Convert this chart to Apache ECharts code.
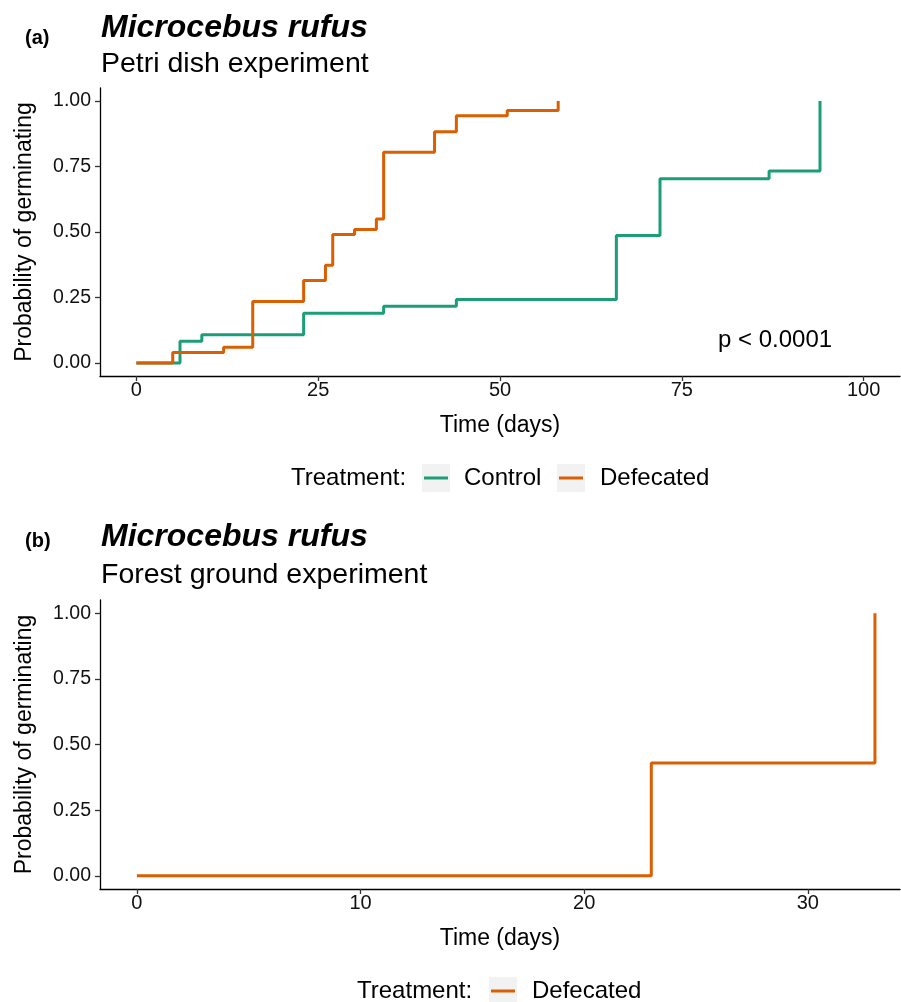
<!DOCTYPE html>
<html lang="en">
<head>
	<meta charset="UTF-8">
	<title>Microcebus rufus germination</title>
	<script src="https://cdn.jsdelivr.net/npm/echarts@6/dist/echarts.min.js"></script>
</head>
<body style="margin:0;background:#fff;">

<div id="main" style="width: 901px;height:1002px;"></div>

<script type="text/javascript">
// Petri dish experiment (panel a): day of each step, cumulative probability after it
var controlDays = [0, 6, 9, 23, 34, 44, 66, 72, 87, 94];
var controlProb = [0, 0.083, 0.108, 0.19, 0.216, 0.242, 0.487, 0.703, 0.733, 1.0];
var defecatedDays = [0, 5, 12, 16, 23, 26, 27, 30, 33, 34, 41, 44, 51, 58];
var defecatedProb = [0, 0.04, 0.06, 0.235, 0.315, 0.373, 0.49, 0.51, 0.55, 0.805, 0.883, 0.944, 0.964, 1.0];

// Forest ground experiment (panel b)
var forestDays = [0, 23, 33];
var forestProb = [0, 0.43, 1.0];

// tick labels
var xTicksA = [0, 25, 50, 75, 100];
var xTicksB = [0, 10, 20, 30];
var yTicks = [0, 0.25, 0.5, 0.75, 1];

var GREEN = '#1B9E77';
var ORANGE = '#D95F02';
var FONT = '"Liberation Sans", Arial, sans-serif';

function pairs(xs, ys) {
    return xs.map(function (x, i) { return [x, ys[i]]; });
}

function xAxisFor(grid, min, max, ticks) {
    return {
        gridIndex: grid,
        type: 'value',
        min: min,
        max: max,
        name: 'Time (days)',
        nameLocation: 'middle',
        nameGap: 38,
        nameTextStyle: { fontSize: 23, color: '#000', fontFamily: FONT },
        axisLine: { onZero: false, lineStyle: { color: '#000', width: 1.3 } },
        axisTick: { customValues: ticks, length: 5, lineStyle: { color: '#333', width: 1.3 } },
        axisLabel: { customValues: ticks, fontSize: 20, color: '#111', margin: 4, fontFamily: FONT },
        splitLine: { show: false }
    };
}

function yAxisFor(grid) {
    return {
        gridIndex: grid,
        type: 'value',
        min: -0.05,
        max: 1.05,
        name: 'Probability of germinating',
        nameLocation: 'middle',
        nameGap: 64,
        nameTextStyle: { fontSize: 23, color: '#000', fontFamily: FONT },
        axisLine: { show: true, onZero: false, lineStyle: { color: '#000', width: 1.3 } },
        axisTick: { show: true, customValues: yTicks, length: 5, lineStyle: { color: '#333', width: 1.3 } },
        axisLabel: {
            customValues: yTicks, fontSize: 19.5, color: '#111', margin: 9, fontFamily: FONT,
            formatter: function (v) { return v.toFixed(2); }
        },
        splitLine: { show: false }
    };
}

function txt(x, y, s, size, weight, style, align) {
    return {
        type: 'text', x: x, y: y,
        style: {
            text: s, fill: '#000', fontSize: size, fontFamily: FONT,
            fontWeight: weight || 'normal', fontStyle: style || 'normal',
            align: align || 'left', verticalAlign: 'middle'
        }
    };
}

function legendKey(x, y, color) {
    return [
        { type: 'rect', shape: { x: x, y: y - 14, width: 28, height: 28 }, style: { fill: '#F2F2F2' } },
        { type: 'line', shape: { x1: x + 2, y1: y, x2: x + 26, y2: y }, style: { stroke: color, lineWidth: 3 } }
    ];
}

var myChart = echarts.init(document.getElementById('main'));

var option = {
    backgroundColor: '#fff',
    animation: false,
    grid: [
        { left: 100, right: 1, top: 88, height: 288 },
        { left: 100, right: 1, top: 600, height: 289 }
    ],
    xAxis: [
        xAxisFor(0, -5, 105, xTicksA),
        xAxisFor(1, -1.65, 34.12, xTicksB)
    ],
    yAxis: [yAxisFor(0), yAxisFor(1)],
    series: [
        {
            name: 'Control', type: 'line', step: 'end', symbol: 'none',
            xAxisIndex: 0, yAxisIndex: 0,
            lineStyle: { color: GREEN, width: 3 }, itemStyle: { color: GREEN },
            data: pairs(controlDays, controlProb)
        },
        {
            name: 'Defecated', type: 'line', step: 'end', symbol: 'none',
            xAxisIndex: 0, yAxisIndex: 0,
            lineStyle: { color: ORANGE, width: 3 }, itemStyle: { color: ORANGE },
            data: pairs(defecatedDays, defecatedProb)
        },
        {
            name: 'Defecated', type: 'line', step: 'end', symbol: 'none',
            xAxisIndex: 1, yAxisIndex: 1,
            lineStyle: { color: ORANGE, width: 3 }, itemStyle: { color: ORANGE },
            data: pairs(forestDays, forestProb)
        }
    ],
    graphic: [
        // panel a headings
        txt(25, 38, '(a)', 20, 'bold'),
        txt(101, 28, 'Microcebus rufus', 32, 'bold', 'italic'),
        txt(101, 64, 'Petri dish experiment', 28.5),
        txt(718, 340, 'p < 0.0001', 24),
        // panel a legend
        txt(291, 478, 'Treatment:', 24),
        txt(464, 478, 'Control', 24),
        txt(600, 478, 'Defecated', 24),
        // panel b headings
        txt(25, 541, '(b)', 20, 'bold'),
        txt(101, 537, 'Microcebus rufus', 32, 'bold', 'italic'),
        txt(101, 575, 'Forest ground experiment', 28.5),
        // panel b legend
        txt(357, 991, 'Treatment:', 24),
        txt(532, 991, 'Defecated', 24)
    ]
        .concat(legendKey(422, 478, GREEN))
        .concat(legendKey(557, 478, ORANGE))
        .concat(legendKey(489, 991, ORANGE))
};

myChart.setOption(option);
</script>

</body>
</html>
